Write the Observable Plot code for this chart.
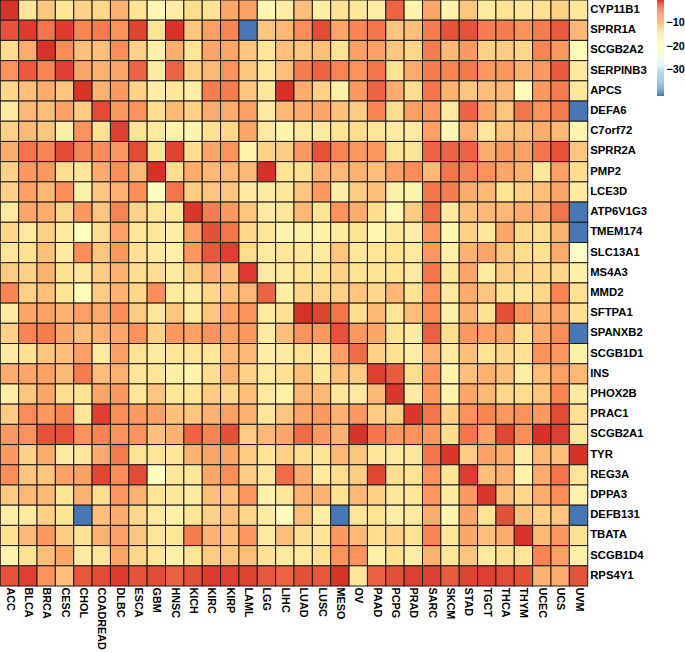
<!DOCTYPE html>
<html><head><meta charset="utf-8">
<script src="https://cdn.jsdelivr.net/npm/d3@7"></script>
<script src="https://cdn.jsdelivr.net/npm/@observablehq/plot@0.6"></script>
<style>html,body{margin:0;padding:0;background:#fff}#wrap{position:relative;width:685px;height:653px}#wrap svg{display:block}#legend{position:absolute;left:657px;top:0}</style>
</head><body><div id="wrap"><div id="main"></div><div id="legend"></div></div>
<script>
const cancers=["ACC","BLCA","BRCA","CESC","CHOL","COADREAD","DLBC","ESCA","GBM","HNSC","KICH","KIRC","KIRP","LAML","LGG","LIHC","LUAD","LUSC","MESO","OV","PAAD","PCPG","PRAD","SARC","SKCM","STAD","TGCT","THCA","THYM","UCEC","UCS","UVM"];
const genes=["CYP11B1","SPRR1A","SCGB2A2","SERPINB3","APCS","DEFA6","C7orf72","SPRR2A","PMP2","LCE3D","ATP6V1G3","TMEM174","SLC13A1","MS4A3","MMD2","SFTPA1","SPANXB2","SCGB1D1","INS","PHOX2B","PRAC1","SCGB2A1","TYR","REG3A","DPPA3","DEFB131","TBATA","SCGB1D4","RPS4Y1"];
const values=[
[-1,-15,-11,-15,-12,-12.5,-9.5,-14,-18.5,-16.5,-13,-14,-8.5,-8,-18.5,-16.5,-10.5,-16.5,-14,-15,-16.5,-4,-18,-8.5,-17.5,-11,-15.5,-14,-15,-13.5,-12,-15],
[-3,-1.5,-5,-1.5,-6,-5.5,-7,-2,-14,-1,-11,-8,-6,-41,-11,-10,-6.5,-2.5,-8.5,-6,-5,-11,-10.5,-5.5,-3,-3,-5.5,-5.5,-7,-5.5,-3.5,-10],
[-13,-9,-1,-6.5,-10.5,-10.5,-6.5,-12,-17,-9,-14.5,-8.5,-8.5,-11,-14.5,-10.5,-11,-10.5,-14,-8,-8,-11,-12.5,-5.5,-10,-7.5,-12,-11.5,-12.5,-6,-7.5,-19.5],
[-7,-3.5,-6,-1.8,-8.5,-9.5,-8.5,-4,-15.5,-4,-12,-10,-7,-11,-14.5,-10.5,-5.5,-4,-6,-7,-5,-14,-9,-5.5,-6,-5.2,-7.5,-7.5,-9.5,-7.5,-3.5,-15.5],
[-12.5,-10.5,-9,-11,-1,-9.5,-7.5,-12,-16.5,-15,-16.5,-5.5,-5.5,-11,-15,-0.8,-9,-12,-17,-7.5,-4,-9,-13,-5,-9.5,-11,-10.5,-10,-20,-7.5,-5.5,-15],
[-15.5,-10,-10.5,-8,-11.5,-2.5,-7.5,-7,-13,-10,-12,-9,-9,-8,-15.5,-10,-9,-8.5,-10.5,-11.5,-6,-13,-8,-7.5,-15.5,-4,-8.5,-11,-5,-7,-5.5,-41],
[-12,-10,-11,-16.5,-7,-13.5,-1.8,-14,-15.5,-17.5,-18,-13.5,-12.5,-8.5,-15.5,-17.5,-15.5,-15.5,-14,-13,-14.5,-16,-15.5,-8,-18.5,-9.5,-14.5,-11,-10.5,-9,-10,-18],
[-9,-5,-6,-2.5,-6,-6.5,-7.5,-2.5,-14,-2,-13,-8.5,-7,-17.5,-12,-11.5,-7.5,-3,-6,-7.5,-7.5,-14,-14,-4,-4,-4,-9,-7.5,-8,-5,-3,-11],
[-12,-7.5,-7.5,-13,-14.5,-9,-6.5,-10,-0.8,-13,-9,-10,-10,-10,-0.8,-14,-13.5,-9.5,-10,-9.5,-10.5,-8,-6.5,-10,-5,-6,-7,-8.5,-9.5,-15,-8,-13],
[-12,-8,-10,-6.5,-17,-11,-9.5,-6.5,-20.5,-5,-11.5,-11,-11,-15.5,-16,-15,-11,-7.5,-16.5,-11.5,-10.5,-17,-17.5,-5,-5.5,-9,-10,-14,-12,-10.5,-8.5,-15.5],
[-15.5,-8.5,-9,-12.5,-7.5,-11,-6,-12,-14.5,-15,-1.2,-5.5,-7.5,-11,-16,-14.5,-10,-14,-7,-9,-13,-18.5,-11.5,-4.5,-16,-10.5,-10,-10,-9,-9,-5,-41],
[-12.5,-15.5,-12,-15.5,-21,-13,-8,-14.5,-14.5,-16.5,-8,-2.8,-5,-12.5,-14.5,-18,-17,-17,-16,-14,-18.5,-15,-16.5,-7.5,-18.5,-12,-15,-8.5,-12.5,-13,-9.5,-41],
[-14.5,-13.5,-10.5,-16,-6.5,-11,-7.5,-13.5,-15.5,-17,-7.5,-3.2,-1.8,-13,-15.5,-14.5,-15,-15.5,-11,-15,-14.5,-14,-15.5,-7.5,-17,-9.5,-8.5,-11,-13,-13.5,-9,-22],
[-11.5,-12,-9.5,-13.5,-15,-11.5,-9.5,-13,-13,-15.5,-12,-9,-10.5,-1.5,-15.5,-15.5,-14,-14,-12,-14,-14,-14,-15.5,-5,-15,-8.5,-15.5,-11.5,-12.5,-12.5,-12.5,-17],
[-6,-12,-10.5,-14,-20,-11.5,-9.5,-12.5,-6.5,-15.5,-16,-12.5,-10.5,-10,-4,-16.5,-12.5,-12.5,-12,-11,-12.5,-10,-14,-7,-15.5,-9,-11,-13.5,-15,-12.5,-6,-13.5],
[-16,-8.5,-8,-9.5,-8,-9,-6.5,-11.5,-15,-11,-15.5,-11,-8,-7,-15.5,-13.5,-0.9,-2,-5,-13,-10,-14.5,-10.5,-6.5,-17,-9.5,-13.5,-2.8,-7,-9.5,-8.5,-13.5],
[-12,-6,-5.5,-8.5,-10.5,-9.5,-8.5,-7,-12,-7.5,-8,-7,-8,-7.5,-15.5,-10.5,-7,-7.5,-3,-7.5,-8.5,-14,-16,-3.8,-13,-7.5,-8,-8.5,-13.5,-9,-6.5,-41],
[-16,-13.5,-11,-10.5,-8,-15.5,-8,-14,-15.5,-14.5,-14.5,-14.5,-10,-10,-16.5,-16,-14,-15.5,-8,-4.5,-12,-13.5,-16.5,-9.5,-15.5,-10.5,-14,-12.5,-13.5,-7,-7.5,-17],
[-9,-8.5,-8,-10,-5.5,-10.5,-9.5,-14.5,-14.5,-16.5,-17.5,-13,-9.5,-12,-15.5,-13.5,-10.5,-15,-10.5,-11.5,-1.8,-3.5,-13,-7,-18,-10.5,-9.5,-10.5,-16.5,-10.5,-8,-10],
[-16.5,-11,-8.5,-13,-14,-8.5,-7.5,-14.5,-11,-15,-14.5,-11.5,-12.5,-10.5,-15.5,-17,-10,-10,-15,-15.5,-10,-1.2,-16,-7.5,-17.5,-8.5,-10,-12.5,-13,-11,-6,-15.5],
[-11.5,-6.5,-7.5,-6,-14.5,-1.8,-6.5,-7.5,-8,-10.5,-11,-9.5,-8,-9.5,-14.5,-11,-8.5,-7.5,-9.5,-7.5,-11.5,-12,-1.2,-5,-12,-7,-6,-7.5,-7,-7.5,-2.5,-13.5],
[-7.5,-7,-3,-3,-7,-6,-7,-7,-10.5,-9.5,-4,-6,-2.8,-11.5,-10,-8.5,-4.5,-7.5,-9.5,-1,-5,-7.5,-7,-7.5,-13,-5,-8,-2.2,-6.5,-0.8,-1.8,-15],
[-7.5,-12,-9,-15.5,-14.5,-9,-5.5,-14,-14.5,-15,-9.5,-8.5,-8.5,-11.5,-14,-12,-13,-14,-10,-11,-15,-15.5,-15,-5,-1.2,-11.5,-8,-9,-16.5,-10,-10.5,-0.8],
[-6.5,-11,-11,-8,-8,-2.3,-6.5,-2.5,-20.5,-14.5,-15,-8.5,-6.5,-11.5,-14.5,-4.5,-9,-15.5,-13,-11.5,-2.2,-13,-14,-7,-14,-1.6,-10.5,-9.5,-17.5,-9,-5,-14.5],
[-11.5,-10,-10,-14,-9.5,-13,-7.5,-9.5,-14.5,-15,-15.5,-10.5,-10.5,-7.5,-17,-14.5,-9.5,-9.5,-13.5,-10,-12,-15,-15,-7.5,-15.5,-7.5,-1.2,-10.5,-12.5,-9,-6.5,-17.5],
[-16.5,-15.5,-12,-14,-41,-10.5,-9,-12.5,-15.5,-17,-14.5,-12,-10.5,-12.5,-16,-20,-10.5,-16.5,-41,-14.5,-14,-16.5,-15.5,-9,-18,-8.5,-14,-2.8,-10.5,-12,-11,-41],
[-13.5,-10,-7.5,-11.5,-13.5,-9.5,-8,-11,-14.5,-14.5,-5.5,-9.5,-10.5,-7.5,-15.5,-10.5,-13,-14,-7.5,-10,-13,-12,-14,-6,-14.5,-8.5,-10.5,-9,-1,-10,-7.5,-13.5],
[-17.5,-14,-10.5,-8.5,-16,-14.5,-8.5,-12.5,-14.5,-17,-14.5,-11.5,-11,-10.5,-13.5,-15.5,-15.5,-13.5,-7,-7,-17,-13.5,-16.5,-9.5,-15,-11,-15.5,-13.5,-14.5,-6,-8,-17],
[-3,-1.8,-7,-10.5,-3.2,-2.5,-1.5,-3,-2.5,-3.8,-2.8,-1.5,-1.8,-2,-3.2,-4,-2.8,-3.2,-1,-15,-3.8,-2.8,-1.8,-1.8,-3.5,-2,-1.8,-2.5,-2.8,-9.5,-9,-3]
];
const colorDomain=[-41.2,-34.47,-27.73,-20.8,-13.2,-6.5,-0.8];
const colorRange=["#4575B4","#91BFDB","#E0F3F8","#FFFFBF","#FEE090","#FC8D59","#D73027"];
const legendTicks=[-10,-20,-30];
const FONT="'Liberation Sans',Arial,sans-serif";
const color={type:"linear",domain:colorDomain,range:colorRange,clamp:true};
const cells=genes.flatMap((g,i)=>cancers.map((c,j)=>({gene:g,cancer:c,value:values[i][j]})));
document.getElementById("main").append(Plot.plot({
  width:685,height:653,marginLeft:0.3,marginTop:0,marginRight:97.3,marginBottom:67,
  style:{fontFamily:FONT,background:"transparent"},
  x:{domain:cancers,padding:0,round:false,label:null},
  y:{domain:genes,padding:0,round:false,label:null},
  color,
  marks:[
    Plot.cell(cells,{x:"cancer",y:"gene",fill:"value",stroke:"#1a1a1a",strokeWidth:1}),
    Plot.axisX({anchor:"bottom",tickSize:0,tickRotate:90,tickPadding:1,fontSize:10.8,fontWeight:"bold",fill:"#000",label:null}),
    Plot.axisY({anchor:"right",tickSize:0,tickPadding:2,dy:-1.2,fontSize:11.3,fontWeight:"bold",fill:"#000",label:null})
  ]
}));
const steps=d3.range(100).map(i=>colorDomain[0]+(i+0.5)*(colorDomain[6]-colorDomain[0])/100);
const stepH=(colorDomain[6]-colorDomain[0])/100;
document.getElementById("legend").append(Plot.plot({
  width:28,height:96,marginLeft:0,marginRight:21,marginTop:0,marginBottom:0,
  style:{fontFamily:FONT,background:"transparent",overflow:"visible"},
  x:{axis:null},
  y:{domain:[colorDomain[0],colorDomain[6]],label:null},
  color,
  marks:[
    Plot.rectY(steps,{y1:d=>d-stepH/2,y2:d=>d+stepH/2,fill:d=>d}),
    Plot.axisY({anchor:"right",ticks:legendTicks,tickSize:0,tickPadding:2,fontSize:10.8,fontWeight:"bold",fill:"#000",label:null})
  ]
}));
</script></body></html>
